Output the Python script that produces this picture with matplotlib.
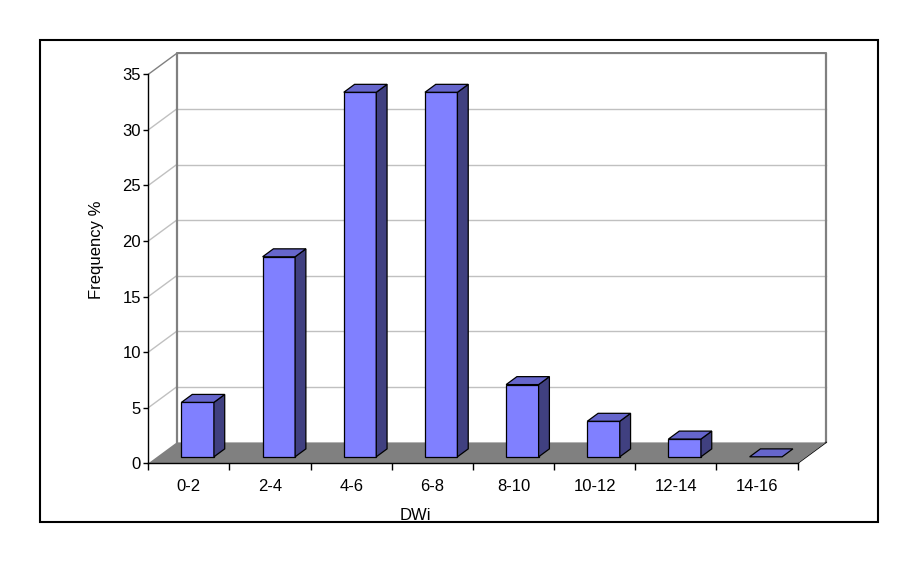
import matplotlib
matplotlib.use("Agg")
import matplotlib.pyplot as plt
from matplotlib.patches import Polygon, Rectangle

categories = ["0-2", "2-4", "4-6", "6-8", "8-10", "10-12", "12-14", "14-16"]
frequency = [4.9, 18.0, 32.8, 32.8, 6.5, 3.2, 1.6, 0.0]
yticks = [0, 5, 10, 15, 20, 25, 30, 35]
x_label = "DWi"
y_label = "Frequency %"

plt.rcParams['font.family'] = ['Liberation Sans', 'DejaVu Sans']
FS = 12

W, H = 902, 582
fig = plt.figure(figsize=(W / 100, H / 100), dpi=100)

# axes geometry in pixels
px_x0, px_y0 = 148.3, 463.3
ux, uy = 81.17, 11.114
XL, YL = 8.42, 37.0
ax = fig.add_axes([px_x0 / W, (H - px_y0) / H, XL * ux / W, YL * uy / H])
ax.set_xlim(0, XL)
ax.set_ylim(0, YL)
ax.patch.set_visible(False)

n = len(categories)
ymax = yticks[-1]
DX, DY = 28.4 / ux, 20.9 / uy   # full depth offset in data units


def P(x, y, d):
    return (x + d * DX, y + d * DY)


grid_c = "#c0c0c0"
wall_c = "#808080"

# floor
floor = Polygon([P(0, 0, 0), P(n, 0, 0), P(n, 0, 1), P(0, 0, 1)], closed=True,
                facecolor="#808080", edgecolor="none", zorder=1)
ax.add_patch(floor)

# gridlines on back wall and side wall
for t in yticks[1:-1]:
    ax.plot(*zip(P(0, t, 1), P(n, t, 1)), color=grid_c, lw=1, zorder=0.5)
    ax.plot(*zip(P(0, t, 0), P(0, t, 1)), color=grid_c, lw=1, zorder=0.5)
# wall edges
ax.plot(*zip(P(0, 0, 1), P(0, ymax, 1), P(n, ymax, 1), P(n, 0, 1)),
        color=wall_c, lw=1.6, zorder=0.6)
ax.plot(*zip(P(0, ymax, 0), P(0, ymax, 1)), color=wall_c, lw=1, zorder=0.6)
ax.plot(*zip(P(n, 0, 0), P(n, 0, 1)), color="black", lw=1, zorder=0.6)

# bars
front_c, top_c, side_c = "#8080ff", "#6666cc", "#404080"
bw0, bw1 = 0.3, 0.7
d0, d1 = 0.31, 0.69
for i, v in enumerate(frequency):
    xa, xb = i + bw0, i + bw1
    if v > 0:
        ax.add_patch(Polygon([P(xa, 0, d0), P(xb, 0, d0), P(xb, v, d0), P(xa, v, d0)],
                             facecolor=front_c, edgecolor="black", lw=0.9, zorder=3))
        ax.add_patch(Polygon([P(xb, 0, d0), P(xb, 0, d1), P(xb, v, d1), P(xb, v, d0)],
                             facecolor=side_c, edgecolor="black", lw=0.9, zorder=3))
    ax.add_patch(Polygon([P(xa, v, d0), P(xb, v, d0), P(xb, v, d1), P(xa, v, d1)],
                         facecolor=top_c, edgecolor="black", lw=0.9, zorder=3))

# axes spines / ticks
for s in ["top", "right"]:
    ax.spines[s].set_visible(False)
ax.spines["left"].set_bounds(0, ymax)
ax.spines["bottom"].set_bounds(0, n)
for s in ["left", "bottom"]:
    ax.spines[s].set_color("black")
    ax.spines[s].set_linewidth(1.0)
    ax.spines[s].set_zorder(4)

ax.set_yticks(yticks)
ax.set_yticklabels([str(t) for t in yticks], fontsize=FS)
ax.tick_params(axis="y", direction="out", length=3.8, width=1, pad=1.5)

ax.set_xticks(range(n + 1))
ax.set_xticklabels([""] * (n + 1))
ax.set_xticks([i + 0.5 for i in range(n)], minor=True)
ax.set_xticklabels(categories, minor=True, fontsize=FS)
ax.tick_params(axis="x", which="major", direction="out", length=5, width=1)
ax.tick_params(axis="x", which="minor", length=0, pad=11)

# axis titles
fig.text(97 / W, 1 - 250 / H, y_label, rotation=90, ha="center", va="center", fontsize=FS)
fig.text(415 / W, 1 - 515 / H, x_label, ha="center", va="center", fontsize=FS)

# outer frame
fig.add_artist(Rectangle((40 / W, 1 - 522 / H), (878 - 40) / W, (522 - 40) / H,
                         transform=fig.transFigure, fill=False, edgecolor="black", lw=1.5))

fig.savefig("out.png", dpi=100)
